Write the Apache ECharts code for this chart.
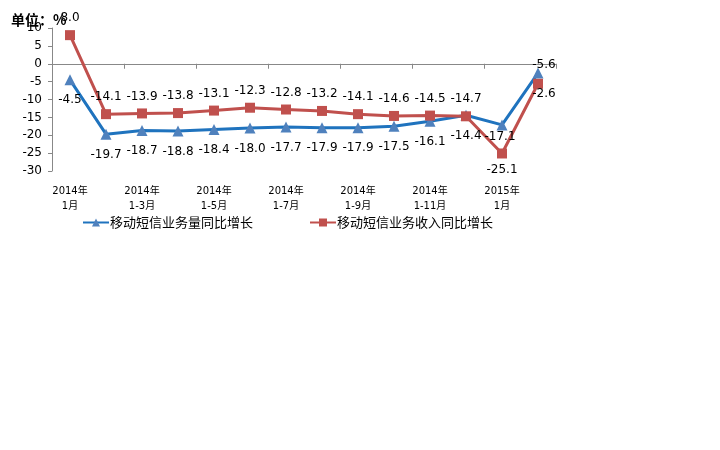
<!DOCTYPE html>
<html><head><meta charset="utf-8">
<script src="https://cdn.jsdelivr.net/npm/echarts@6/dist/echarts.min.js"></script>
<style>html,body{margin:0;padding:0;background:#fff}#c{width:720px;height:450px}</style>
</head><body><div id="c"></div>
<script>
var categories = ['2014年\n1月','2014年\n1-2月','2014年\n1-3月','2014年\n1-4月','2014年\n1-5月','2014年\n1-6月','2014年\n1-7月','2014年\n1-8月','2014年\n1-9月','2014年\n1-10月','2014年\n1-11月','2014年\n1-12月','2015年\n1月','2015年\n1-2月'];
var volumeGrowth = [-4.5,-19.7,-18.7,-18.8,-18.4,-18.0,-17.7,-17.9,-17.9,-17.5,-16.1,-14.4,-17.1,-2.6];
var revenueGrowth = [8.0,-14.1,-13.9,-13.8,-13.1,-12.3,-12.8,-13.2,-14.1,-14.6,-14.5,-14.7,-25.1,-5.6];
var seriesNames = ['移动短信业务量同比增长','移动短信业务收入同比增长'];

var font = "'DejaVu Sans','Noto Sans CJK SC',sans-serif";
var chart = echarts.init(document.getElementById('c'));

var blueData = volumeGrowth.map(function(v,i){
  var d = {value:v};
  if (i === 12) d.label = {offset:[-2,-9]};
  if (i === 13) d.label = {offset:[6,0]};
  return d;
});
var redData = revenueGrowth.map(function(v,i){
  var d = {value:v};
  if (i === 12) d.label = {position:'bottom', distance:5};
  if (i === 13) d.label = {offset:[6,0], distance:8};
  return d;
});

chart.setOption({
  animation:false,
  title:{text:'单位：%', left:6, top:8, textStyle:{fontSize:14, fontWeight:'bold', color:'#000', fontFamily:"'Noto Sans CJK SC',sans-serif"}},
  legend:{
    left:77, top:211, itemWidth:26, itemHeight:10, itemGap:56,
    textStyle:{fontSize:13, color:'#000', fontFamily:"'Noto Sans CJK SC',sans-serif", padding:[0,0,0,-4]},
    data:seriesNames
  },
  grid:{left:52, right:164, top:28, bottom:279, containLabel:false},
  xAxis:[{
    type:'category', data:categories, boundaryGap:true,
    axisLine:{onZero:true, lineStyle:{color:'#888', width:1}},
    axisTick:{show:true, length:5, lineStyle:{color:'#888'}},
    axisLabel:{show:false}
  },{
    type:'category', data:categories, boundaryGap:true, position:'bottom',
    axisLine:{show:false, onZero:false}, axisTick:{show:false},
    axisLabel:{interval:1, fontSize:10, color:'#000', fontFamily:font, lineHeight:15, margin:13}
  }],
  yAxis:{
    type:'value', min:-30, max:10, interval:5,
    axisLine:{show:true, lineStyle:{color:'#888'}},
    axisTick:{show:true, length:4, lineStyle:{color:'#888'}},
    splitLine:{show:false},
    axisLabel:{fontSize:12, color:'#000', fontFamily:font, margin:10}
  },
  series:[{
    name:seriesNames[0], type:'line', data:blueData, xAxisIndex:0,
    symbol:'triangle', symbolSize:11,
    lineStyle:{color:'#1F73BE', width:3},
    itemStyle:{color:'#4F81BD'},
    label:{show:true, position:'bottom', distance:9, fontSize:12, color:'#000', fontFamily:font, formatter:function(p){return p.value.toFixed(1);}}
  },{
    name:seriesNames[1], type:'line', data:redData, xAxisIndex:0,
    symbol:'rect', symbolSize:10,
    lineStyle:{color:'#C0504D', width:3},
    itemStyle:{color:'#C0504D'},
    label:{show:true, position:'top', distance:6, fontSize:12, color:'#000', fontFamily:font, formatter:function(p){return p.value.toFixed(1);}}
  }]
});
</script></body></html>
